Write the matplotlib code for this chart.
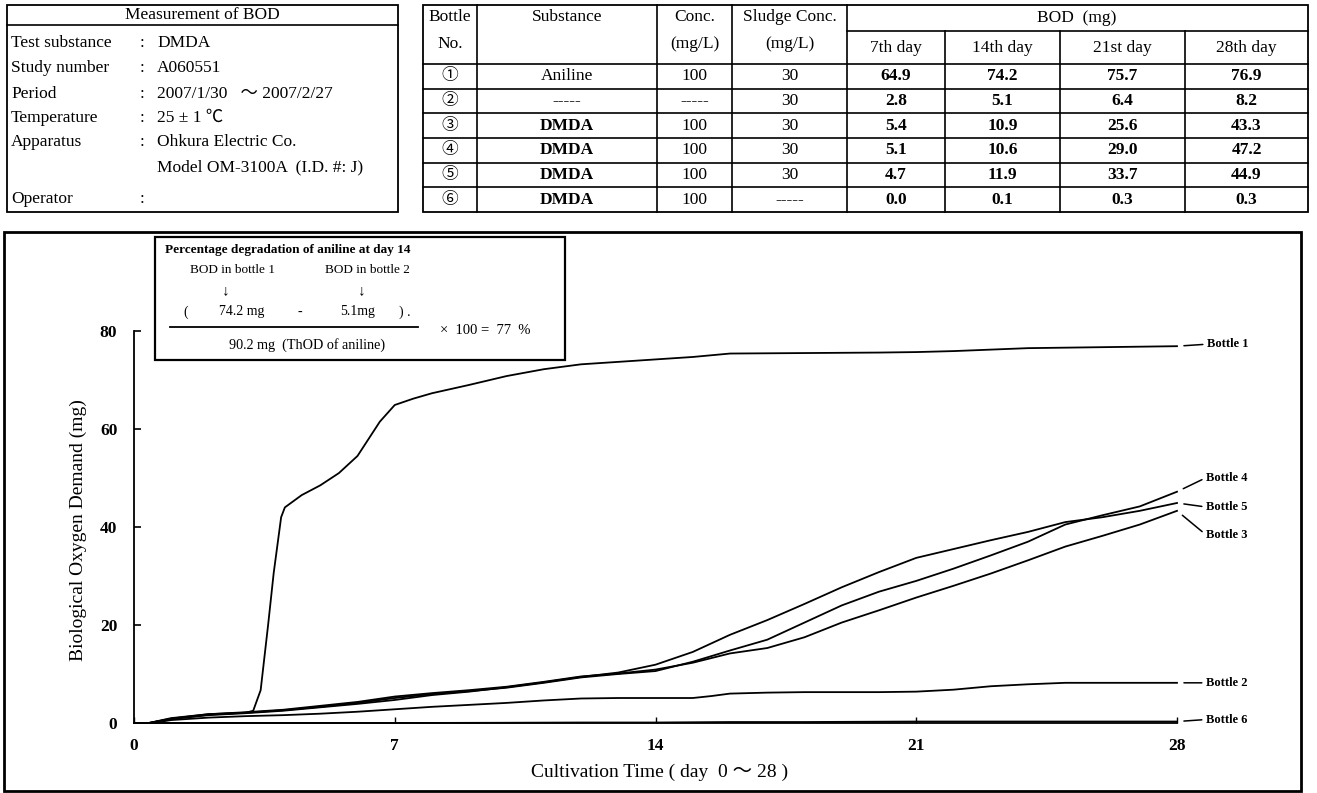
import matplotlib
matplotlib.use("Agg")
import matplotlib.pyplot as plt
from matplotlib.lines import Line2D
from matplotlib.patches import Rectangle

# ---- data ----
days_b1 = [0, 0.4, 1, 2, 3, 3.2, 3.4, 3.6, 3.75, 3.95, 4.05, 4.5, 5, 5.5, 6, 6.3, 6.6, 7,
           7.5, 8, 9, 10, 11, 12, 13, 14, 15, 16, 18, 20, 21, 22, 24, 26, 28]
bottle1 = [0, 0, 1.0, 1.8, 2.1, 2.5, 6.7, 20, 30.6, 42, 44, 46.5, 48.5, 51, 54.5, 58, 61.5, 64.9,
           66.2, 67.3, 69, 70.8, 72.2, 73.2, 73.7, 74.2, 74.7, 75.4, 75.5, 75.6, 75.7, 75.9, 76.5, 76.7, 76.9]

days_b2 = [0, 0.5, 1, 2, 3, 4, 5, 6, 7, 8, 9, 10, 11, 12, 13, 14, 15, 15.5, 16, 17, 18, 19, 20,
           21, 22, 23, 24, 25, 26, 27, 28]
bottle2 = [0, 0, 0.6, 1.1, 1.4, 1.6, 1.9, 2.3, 2.8, 3.3, 3.7, 4.1, 4.6, 5.0, 5.1, 5.1, 5.1, 5.5,
           6.0, 6.2, 6.3, 6.3, 6.3, 6.4, 6.8, 7.5, 7.9, 8.2, 8.2, 8.2, 8.2]

days_dmda = [0, 0.4] + list(range(1, 29))
bottle3 = [0, 0, 0.9, 1.8, 2.2, 2.7, 3.5, 4.3, 5.4, 6.1, 6.7, 7.4, 8.4, 9.5, 10.1, 10.9, 12.3, 14.2,
           15.3, 17.5, 20.5, 23.0, 25.6, 28.0, 30.5, 33.2, 36.0, 38.2, 40.5, 43.3]
bottle4 = [0, 0, 0.8, 1.7, 2.1, 2.6, 3.3, 4.1, 5.1, 5.9, 6.5, 7.2, 8.2, 9.3, 10.0, 10.6, 12.5, 14.8,
           17.0, 20.5, 24.0, 26.8, 29.0, 31.5, 34.2, 37.0, 40.5, 42.4, 44.2, 47.2]
bottle5 = [0, 0, 0.8, 1.6, 2.0, 2.5, 3.2, 3.9, 4.7, 5.7, 6.4, 7.3, 8.3, 9.4, 10.3, 11.9, 14.5, 18.0,
           21.0, 24.3, 27.7, 30.8, 33.7, 35.5, 37.3, 39.0, 41.0, 42.0, 43.3, 44.9]

days_b6 = [0, 7, 10, 12, 14, 16, 18, 21, 24, 28]
bottle6 = [0, 0, 0.05, 0.1, 0.1, 0.2, 0.2, 0.3, 0.3, 0.3]

x_ticks = [0, 7, 14, 21, 28]
y_ticks = [0, 20, 40, 60, 80]

# info box
info_labels = ["Test substance", "Study number", "Period", "Temperature", "Apparatus", "", "Operator"]
info_values = ["DMDA", "A060551", "2007/1/30   ～ 2007/2/27", "25 ± 1 ℃",
               "Ohkura Electric Co.", "Model OM-3100A  (I.D. #: J)", ""]

# bottle table
bottle_no = ["①", "②", "③", "④", "⑤", "⑥"]
substance = ["Aniline", "-----", "DMDA", "DMDA", "DMDA", "DMDA"]
conc = ["100", "-----", "100", "100", "100", "100"]
sludge = ["30", "30", "30", "30", "30", "-----"]
bod_days = ["7th day", "14th day", "21st day", "28th day"]
bod_table = [["64.9", "74.2", "75.7", "76.9"],
             ["2.8", "5.1", "6.4", "8.2"],
             ["5.4", "10.9", "25.6", "43.3"],
             ["5.1", "10.6", "29.0", "47.2"],
             ["4.7", "11.9", "33.7", "44.9"],
             ["0.0", "0.1", "0.3", "0.3"]]

W, H = 1317, 793
SERIF = ["Liberation Serif", "Noto Sans CJK JP", "DejaVu Sans"]
plt.rcParams["font.family"] = SERIF

fig = plt.figure(figsize=(W / 100, H / 100), dpi=100)


def fx(px):
    return px / W


def fy(py):
    return 1 - py / H


def line(x0, y0, x1, y1, lw=1.2):
    fig.add_artist(Line2D([fx(x0), fx(x1)], [fy(y0), fy(y1)], color="black", lw=lw,
                          transform=fig.transFigure))


def box(x0, y0, x1, y1, lw=1.3):
    fig.add_artist(Rectangle((fx(x0), fy(y1)), fx(x1) - fx(x0), fy(y0) - fy(y1), fill=False,
                             ec="black", lw=lw, transform=fig.transFigure))


def txt(x, y, s, size=12.5, ha="left", weight="normal"):
    fig.text(fx(x), fy(y), s, fontsize=size, ha=ha, va="center", fontweight=weight)


# ---- left info box ----
box(7, 5, 398, 212)
line(7, 25, 398, 25)
txt(202, 15, "Measurement of BOD", ha="center")
info_y = [43, 68, 94, 118, 142, 167, 199]
for lab, val, yy in zip(info_labels, info_values, info_y):
    if lab:
        txt(11, yy, lab)
    if lab or val == "":
        txt(140, yy, ":")
    txt(157, yy, val)

# ---- bottle table ----
cols = [423, 477, 657, 732, 847, 945, 1060, 1185, 1308]
top, mid, head, bottom = 5, 31, 64, 212
box(cols[0], top, cols[-1], bottom)
for c in cols[1:-1]:
    line(c, top if c <= 847 else mid, c, bottom)
line(847, mid, cols[-1], mid)
row_h = (bottom - head) / len(bottle_no)
for i in range(len(bottle_no)):
    line(cols[0], head + i * row_h, cols[-1], head + i * row_h)

cx = [(cols[i] + cols[i + 1]) / 2 for i in range(len(cols) - 1)]
txt(cx[0], 17, "Bottle", ha="center")
txt(cx[0], 44, "No.", ha="center")
txt(cx[1], 17, "Substance", ha="center")
txt(cx[2], 17, "Conc.", ha="center")
txt(cx[2], 44, "(mg/L)", ha="center")
txt(cx[3], 17, "Sludge Conc.", ha="center")
txt(cx[3], 44, "(mg/L)", ha="center")
txt(1077, 18, "BOD  (mg)", ha="center")
for j, d in enumerate(bod_days):
    txt(cx[4 + j], 48, d, ha="center")
for i in range(len(bottle_no)):
    yy = head + (i + 0.5) * row_h
    txt(cx[0], yy, bottle_no[i], ha="center", size=12)
    txt(cx[1], yy, substance[i], ha="center", weight="bold" if substance[i] == "DMDA" else "normal")
    txt(cx[2], yy, conc[i], ha="center")
    txt(cx[3], yy, sludge[i], ha="center")
    for j in range(4):
        txt(cx[4 + j], yy, bod_table[i][j], ha="center", weight="bold")

# ---- plot frame ----
box(4, 232, 1301, 791, lw=2)

ax = fig.add_axes([fx(134), fy(723), fx(1177) - fx(134), fy(331) - fy(723)])
ax.set_xlim(0, 28)
ax.set_ylim(0, 80)
for sp in ["top", "right"]:
    ax.spines[sp].set_visible(False)
ax.spines["left"].set_linewidth(1.3)
ax.spines["bottom"].set_linewidth(1.3)
ax.set_xticks(x_ticks)
ax.set_yticks(y_ticks)
ax.tick_params(axis="y", direction="in", length=5, width=1.2, pad=12, labelsize=12.5)
ax.tick_params(axis="x", direction="in", length=4, width=1.0, pad=11, labelsize=12.5)
for lb in ax.get_xticklabels() + ax.get_yticklabels():
    lb.set_fontweight("bold")

series = [("Bottle 1", days_b1, bottle1, (30, 2)),
          ("Bottle 2", days_b2, bottle2, (29, 0)),
          ("Bottle 3", days_dmda, bottle3, (29, -24)),
          ("Bottle 4", days_dmda, bottle4, (29, 14)),
          ("Bottle 5", days_dmda, bottle5, (29, -4)),
          ("Bottle 6", days_b6, bottle6, (29, 2))]
for name, dx, dy, off in series:
    ax.plot(dx, dy, color="black", lw=1.3, clip_on=False)
    ax.annotate(name, xy=(dx[-1], dy[-1]), xytext=off, textcoords="offset pixels",
                ha="left", va="center", fontsize=9, fontweight="bold", annotation_clip=False,
                arrowprops=dict(arrowstyle="-", lw=1.1, color="black", relpos=(0, 0.5),
                                shrinkA=1, shrinkB=5))

fig.text(fx(78), fy(530), "Biological Oxygen Demand (mg)", rotation=90, fontsize=14,
         ha="center", va="center")
fig.text(fx(660), fy(772), "Cultivation Time ( day  0 ～ 28 )", fontsize=14,
         ha="center", va="center")

# ---- formula box ----
box(155, 237, 565, 360, lw=1.6)
txt(165, 250, "Percentage degradation of aniline at day 14", size=9.5, weight="bold")
txt(233, 270, "BOD in bottle 1", size=9.5, ha="center")
txt(367, 270, "BOD in bottle 2", size=9.5, ha="center")
txt(226, 291, "↓", size=11, ha="center", weight="bold")
txt(362, 291, "↓", size=11, ha="center", weight="bold")
txt(186, 312, "(", size=10, ha="center")
txt(242, 312, "74.2 mg", size=10, ha="center")
txt(300, 312, "-", size=10, ha="center")
txt(358, 312, "5.1mg", size=10, ha="center")
txt(405, 312, ") .", size=10, ha="center")
line(170, 327, 418, 327, lw=1.3)
txt(307, 345, "90.2 mg  (ThOD of aniline)", size=10.2, ha="center")
txt(440, 330, "×  100 =  77  %", size=10.5)

fig.savefig("out.png", dpi=100)
